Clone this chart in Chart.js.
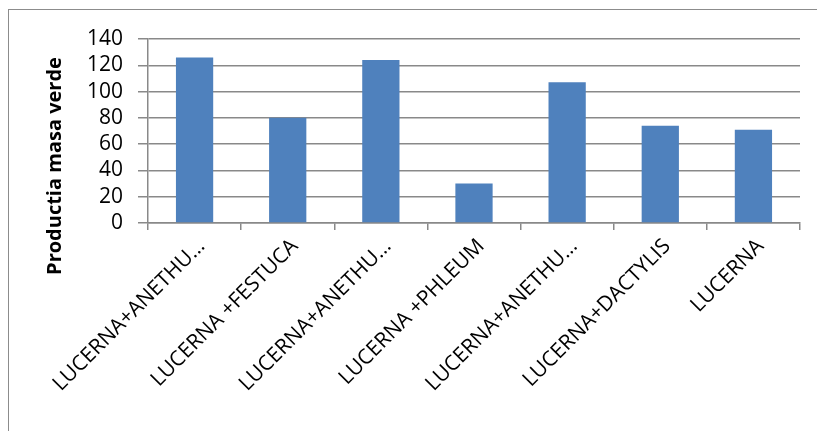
<!DOCTYPE html>
<html>
<head>
<meta charset="utf-8">
<script src="https://cdn.jsdelivr.net/npm/chart.js@4/dist/chart.umd.min.js"></script>
<style>
    html, body { margin: 0; padding: 0; background: #fff; }
    #frame {
        position: absolute;
        left: 8px;
        top: 9px;
        width: 830px;
        height: 440px;
        border: 1px solid #8c8c8c;
        box-sizing: border-box;
    }
    #wrap { position: absolute; left: 0; top: 0; width: 817px; height: 431px; }
</style>
</head>
<body>
<div id="frame"></div>
<div id="wrap"><canvas id="chart" width="817" height="431"></canvas></div>
<script>
// Chart data
const categories = [
    'LUCERNA+ANETHU…',
    'LUCERNA +FESTUCA',
    'LUCERNA+ANETHU…',
    'LUCERNA +PHLEUM',
    'LUCERNA+ANETHU…',
    'LUCERNA+DACTYLIS',
    'LUCERNA'
];
const masaVerde = [126, 80, 124, 30, 107, 74, 71];
const yTicks = [0, 20, 40, 60, 80, 100, 120, 140];
const yTitle = 'Productia masa verde';

const AXIS_GRAY = '#898989';
const FONT = "'Open Sans', 'Liberation Sans', sans-serif";

Chart.defaults.font.family = FONT;
Chart.defaults.color = '#000';

// y title sits lower than the plot centre in the original, so draw it by hand
const yTitlePlugin = {
    id: 'yTitle',
    afterDraw(chart) {
        const ctx = chart.ctx;
        ctx.save();
        ctx.translate(55, 166);
        ctx.rotate(-Math.PI / 2);
        ctx.font = 'bold 20px ' + FONT;
        ctx.fillStyle = '#000';
        ctx.textAlign = 'center';
        ctx.textBaseline = 'middle';
        ctx.fillText(yTitle, 0, 0);
        ctx.restore();
    }
};

new Chart(document.getElementById('chart'), {
    type: 'bar',
    data: {
        labels: categories,
        datasets: [{
            label: yTitle,
            data: masaVerde,
            backgroundColor: '#4f81bd',
            borderWidth: 0,
            barPercentage: 0.4,
            categoryPercentage: 1.0
        }]
    },
    options: {
        responsive: false,
        animation: false,
        layout: { padding: { left: 43, right: 17, top: 39, bottom: 0 } },
        plugins: {
            legend: { display: false },
            tooltip: { enabled: false }
        },
        scales: {
            y: {
                min: 0,
                max: 140,
                afterBuildTicks: axis => { axis.ticks = yTicks.map(v => ({ value: v })); },
                afterFit: axis => { axis.width = 105; },
                ticks: { font: { size: 21 }, padding: 15, autoSkip: false },
                border: { display: true, color: AXIS_GRAY, width: 1.5 },
                grid: { color: AXIS_GRAY, lineWidth: 1.5, tickLength: 10 }
            },
            x: {
                afterFit: axis => { axis.height = 208; },
                ticks: {
                    font: { size: 21 },
                    maxRotation: 45,
                    minRotation: 45,
                    autoSkip: false,
                    padding: 4,
                    labelOffset: 7
                },
                border: { display: true, color: AXIS_GRAY, width: 1.5 },
                grid: {
                    drawOnChartArea: false,
                    color: AXIS_GRAY,
                    lineWidth: 1.5,
                    tickLength: 7,
                    offset: true
                }
            }
        }
    },
    plugins: [yTitlePlugin]
});
</script>
</body>
</html>
